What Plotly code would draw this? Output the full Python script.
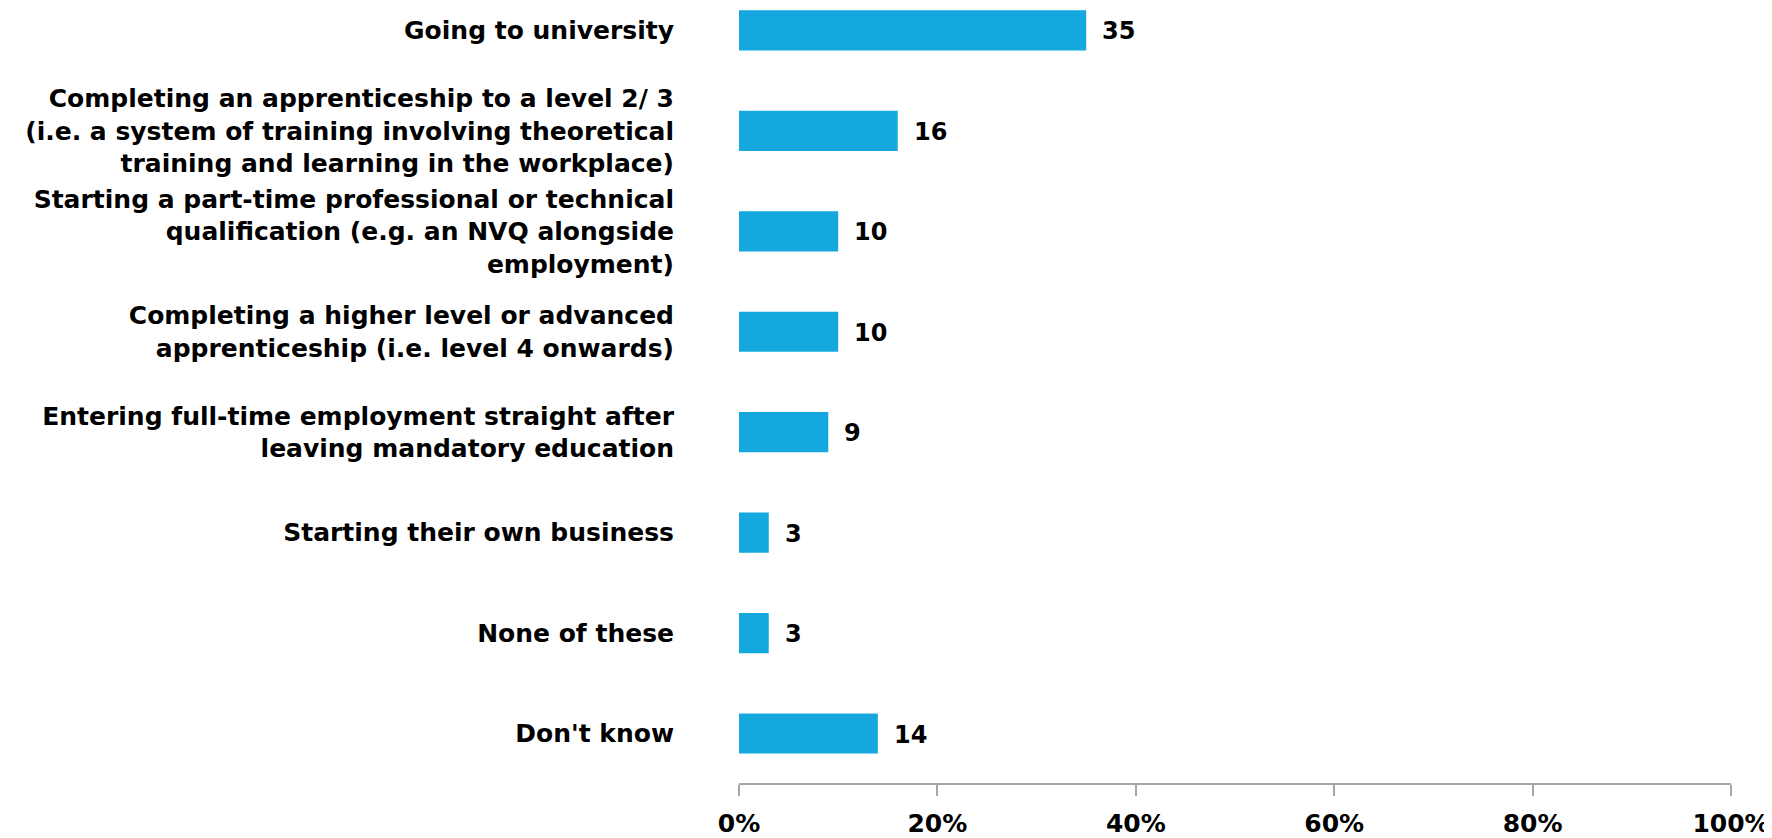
import plotly.graph_objects as go

categories = [
    "Going to university",
    "Completing an apprenticeship to a level 2/ 3<br>(i.e. a system of training involving theoretical<br>training and learning in the workplace)",
    "Starting a part-time professional or technical<br>qualification (e.g. an NVQ alongside<br>employment)",
    "Completing a higher level or advanced<br>apprenticeship (i.e. level 4 onwards)",
    "Entering full-time employment straight after<br>leaving mandatory education",
    "Starting their own business",
    "None of these",
    "Don't know",
]
values = [35, 16, 10, 10, 9, 3, 3, 14]
x_ticks = [0, 20, 40, 60, 80, 100]
x_tick_labels = ["0%", "20%", "40%", "60%", "80%", "100%"]

FONT = "DejaVu Sans"
BAR_COLOR = "#15A8DE"

idx = list(range(len(categories)))

fig = go.Figure()
fig.add_trace(go.Bar(
    x=values,
    y=idx,
    orientation="h",
    width=0.4,
    marker=dict(color=BAR_COLOR, line=dict(width=0)),
    hoverinfo="skip",
))

for i, v in zip(idx, values):
    fig.add_annotation(
        x=v, y=i, text=str(v), showarrow=False,
        xanchor="left", yanchor="middle", xshift=14, yshift=-1,
        font=dict(family=FONT, size=24, color="#000000", weight="bold"),
    )

fig.update_layout(
    width=1764, height=830,
    margin=dict(l=731, r=41, t=0, b=53),
    paper_bgcolor="white", plot_bgcolor="white",
    showlegend=False,
    font=dict(family=FONT, size=25, color="#000000", weight="bold"),
)
fig.update_xaxes(
    range=[0, 100],
    tickvals=x_ticks, ticktext=x_tick_labels,
    showgrid=False, zeroline=False,
    showline=True, linecolor="#A6A6A6", linewidth=1.5,
    ticks="outside", ticklen=11, tickcolor="#A6A6A6", tickwidth=1.5,
    ticklabelstandoff=6,
    tickfont=dict(family=FONT, size=25, color="#000000", weight="bold"),
)
fig.update_yaxes(
    range=[7.4925, -0.2234],
    tickvals=idx, ticktext=categories,
    showgrid=False, zeroline=False, showline=False,
    ticks="", ticklabelstandoff=64,
    tickfont=dict(family=FONT, size=25, color="#000000", weight="bold"),
)

fig.write_html("out.html")
